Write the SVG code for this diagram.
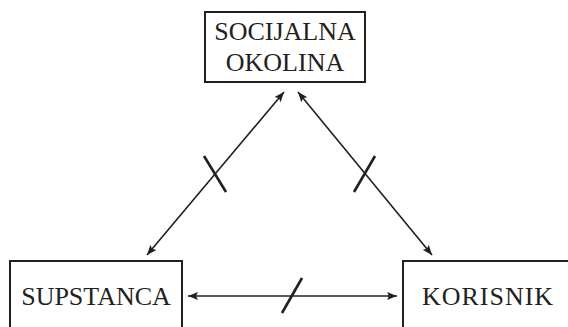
<svg xmlns="http://www.w3.org/2000/svg" width="568" height="327" viewBox="0 0 568 327">
<style>
.box{fill:#fff;stroke:#231f20;stroke-width:2}
.lbl{font-size:26px;fill:#231f20;text-anchor:middle}
.con{stroke:#231f20;stroke-width:1.6;fill:none}
.tick{stroke:#231f20;stroke-width:2.6;fill:none}
</style>
<defs>
<marker id="ah" viewBox="0 0 10 8" refX="10" refY="4" markerWidth="10" markerHeight="8" markerUnits="userSpaceOnUse" orient="auto-start-reverse">
<path d="M0,0 L10,4 L0,8 L2,4 Z" fill="#231f20"/>
</marker>
</defs>
<g id="node-socijalna">
<rect class="box" x="205" y="12" width="160" height="70"/>
<text class="lbl" font-family="Liberation Serif, serif" x="285" y="40">SOCIJALNA</text>
<text class="lbl" font-family="Liberation Serif, serif" x="285" y="71">OKOLINA</text>
</g>
<g id="node-supstanca">
<rect class="box" x="10" y="261" width="172" height="80"/>
<text class="lbl" font-family="Liberation Serif, serif" x="96" y="305">SUPSTANCA</text>
</g>
<g id="node-korisnik">
<rect class="box" x="403" y="261" width="180" height="80"/>
<text class="lbl" font-family="Liberation Serif, serif" x="488" y="305" letter-spacing="1">KORISNIK</text>
</g>
<g id="connectors">
<line class="con" x1="147" y1="255" x2="284" y2="92" marker-start="url(#ah)" marker-end="url(#ah)"/>
<line class="con" x1="432" y1="255" x2="298" y2="92" marker-start="url(#ah)" marker-end="url(#ah)"/>
<line class="con" x1="188" y1="296" x2="397" y2="296" marker-start="url(#ah)" marker-end="url(#ah)"/>
<line class="tick" x1="204" y1="156" x2="226" y2="192"/>
<line class="tick" x1="375" y1="156" x2="354" y2="192"/>
<line class="tick" x1="282" y1="313" x2="302" y2="278"/>
</g>
</svg>
